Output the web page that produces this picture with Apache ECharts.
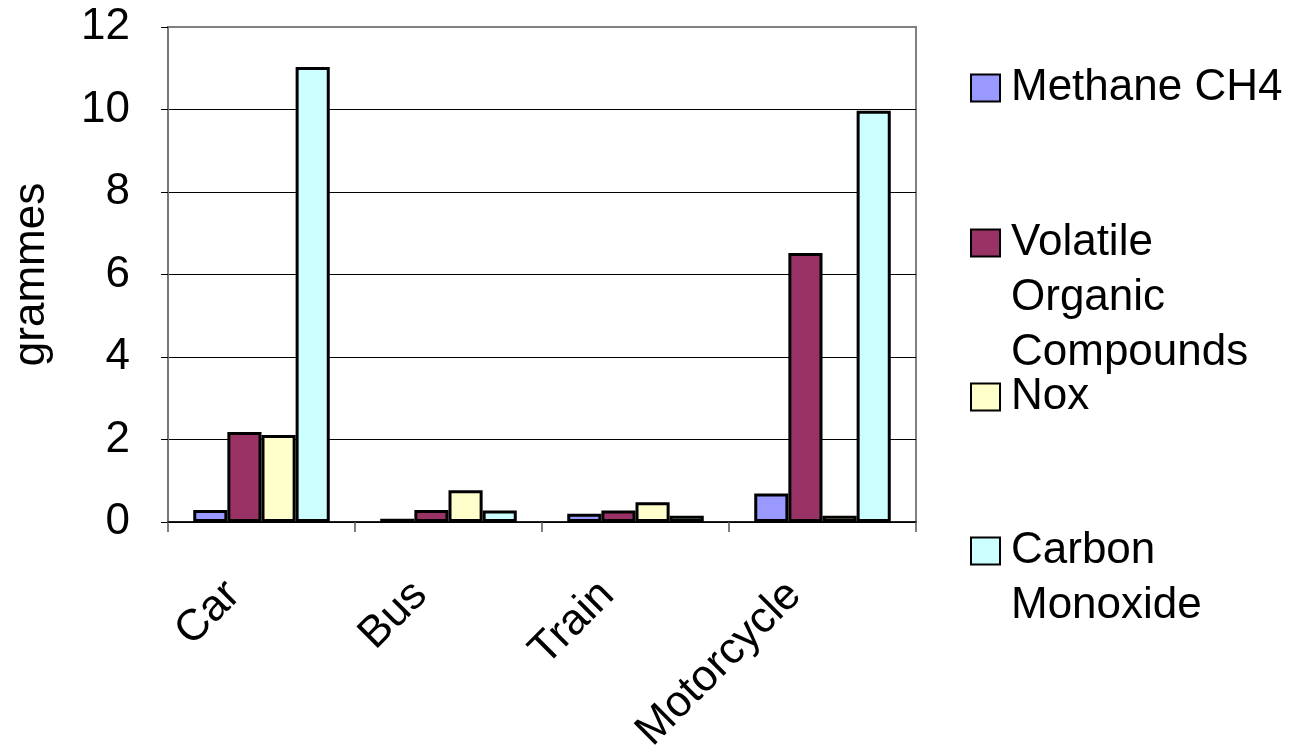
<!DOCTYPE html>
<html>
<head>
<meta charset="utf-8">
<script src="https://cdn.jsdelivr.net/npm/echarts@6/dist/echarts.min.js"></script>
<style>
  html, body { margin: 0; padding: 0; background: #ffffff; }
  #chart { width: 1304px; height: 750px; }
</style>
</head>
<body>
<div id="chart"></div>
<script>
const categories = ['Car', 'Bus', 'Train', 'Motorcycle'];
const seriesNames = ['Methane CH4', 'Volatile Organic Compounds', 'Nox', 'Carbon Monoxide'];
const methane = [0.29, 0.08, 0.2, 0.69];
const voc = [2.18, 0.29, 0.28, 6.52];
const nox = [2.11, 0.77, 0.48, 0.15];
const carbonMonoxide = [11.03, 0.28, 0.15, 9.97];
const yTicks = [0, 2, 4, 6, 8, 10, 12];
const colors = ['#9999FF', '#993366', '#FFFFCC', '#CCFFFF'];
const legendLabels = ['Methane CH4', 'Volatile\nOrganic\nCompounds', 'Nox', 'Carbon\nMonoxide'];

const FONT = 'Liberation Sans, Arial, sans-serif';
const values = [methane, voc, nox, carbonMonoxide];
const LH = 55;

const chart = echarts.init(document.getElementById('chart'), null, { renderer: 'canvas' });

const legendTops = [60.5, 214.5, 369.5, 522.5];
const legends = seriesNames.map((name, i) => {
  const lines = legendLabels[i].split('\n').length;
  const h = lines * LH;
  // square sits beside the first text line; the extra move points only stretch the icon box
  const icon = lines > 1 ? 'path://M0,14H29V41H0Z M0,0 M0,' + h : 'rect';
  return {
    data: [name],
    left: 970,
    top: legendTops[i],
    orient: 'vertical',
    padding: 0,
    itemWidth: 29,
    itemHeight: lines > 1 ? h : 27,
    icon: icon,
    selectedMode: false,
    formatter: () => legendLabels[i],
    itemStyle: { color: colors[i], borderColor: '#000', borderWidth: 2 },
    textStyle: {
      fontFamily: FONT, fontSize: 44, color: '#000', lineHeight: LH,
      padding: [0, 0, 0, 6]
    }
  };
});

const option = {
  backgroundColor: '#ffffff',
  animation: false,
  legend: legends,
  grid: {
    left: 168, right: 388, top: 27, bottom: 228,
    show: true, borderColor: '#808080', borderWidth: 2,
    outerBoundsMode: 'none'
  },
  xAxis: {
    type: 'category',
    data: categories,
    axisLine: { show: true, lineStyle: { color: '#000', width: 1.5 } },
    axisTick: { show: true, interval: 0, length: 10, lineStyle: { color: '#555', width: 1.5 } },
    axisLabel: {
      interval: 0, rotate: 45, margin: 38,
      fontFamily: FONT, fontSize: 44, color: '#000',
      padding: [0, 40, 0, 0]
    },
    splitLine: { show: false }
  },
  yAxis: {
    type: 'value',
    min: yTicks[0], max: yTicks[yTicks.length - 1], interval: 2,
    name: 'grammes',
    nameLocation: 'middle',
    nameGap: 114,
    nameRotate: 90,
    nameTextStyle: { fontFamily: FONT, fontSize: 44, color: '#000' },
    axisLine: { show: true, lineStyle: { color: '#777', width: 2 } },
    axisTick: { show: true, length: 7, lineStyle: { color: '#000', width: 1 } },
    axisLabel: { margin: 38, fontFamily: FONT, fontSize: 44, color: '#000' },
    splitLine: { show: true, showMaxLine: false, lineStyle: { color: '#000', width: 1 } }
  },
  series: seriesNames.map((name, i) => ({
    name: name,
    type: 'bar',
    data: values[i],
    barGap: '0%',
    barCategoryGap: '27%',
    itemStyle: { color: colors[i], borderColor: '#000', borderWidth: 3 }
  }))
};

chart.setOption(option);
</script>
</body>
</html>
